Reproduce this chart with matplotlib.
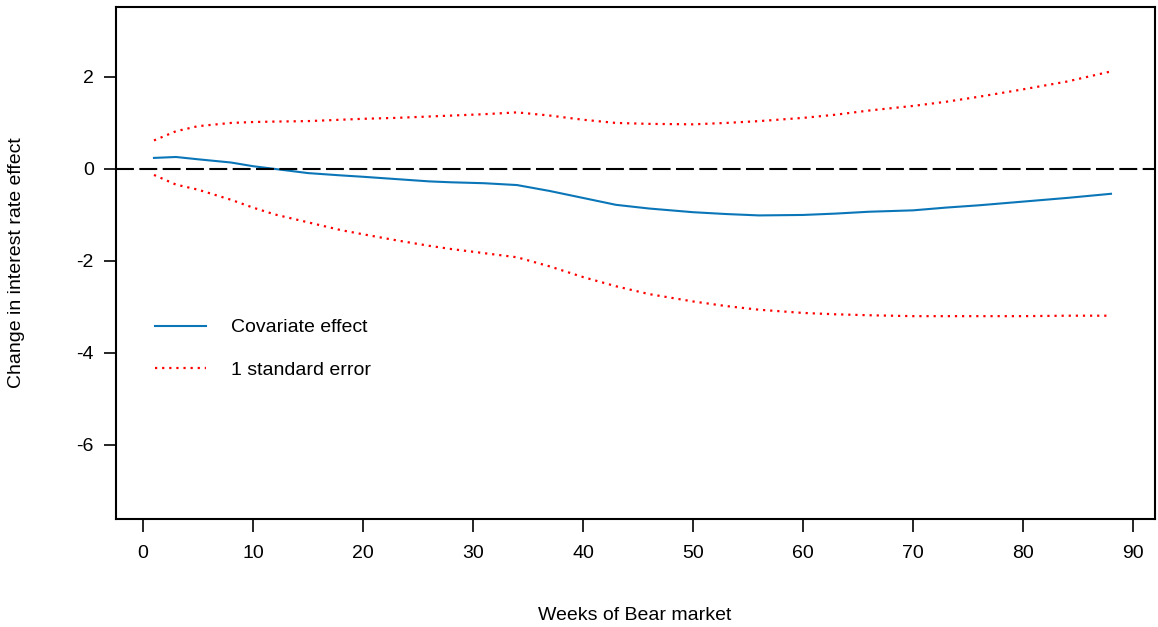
import matplotlib
matplotlib.use("Agg")
import matplotlib.pyplot as plt

plt.rcParams["font.family"] = ["Liberation Sans", "DejaVu Sans"]
plt.rcParams["axes.unicode_minus"] = False

# Недели медвежьего рынка и значения
weeks = [1, 3, 5, 8, 10, 12, 15, 18, 20, 23, 26, 28, 31, 34, 37, 40, 43, 46,
         50, 53, 56, 60, 63, 66, 70, 73, 76, 80, 84, 88]
effect = [0.24, 0.26, 0.21, 0.14, 0.06, 0.0, -0.09, -0.14, -0.17, -0.22,
          -0.27, -0.29, -0.31, -0.35, -0.48, -0.63, -0.78, -0.86, -0.94,
          -0.98, -1.01, -1.0, -0.97, -0.93, -0.90, -0.84, -0.79, -0.71,
          -0.63, -0.54]
upper = [0.62, 0.82, 0.93, 1.0, 1.02, 1.03, 1.04, 1.07, 1.09, 1.11, 1.14,
         1.16, 1.19, 1.23, 1.16, 1.07, 1.0, 0.98, 0.97, 1.0, 1.04, 1.11,
         1.18, 1.27, 1.37, 1.46, 1.57, 1.73, 1.90, 2.12]
lower = [-0.13, -0.34, -0.45, -0.67, -0.84, -0.99, -1.16, -1.33, -1.42,
         -1.55, -1.67, -1.74, -1.83, -1.92, -2.12, -2.35, -2.55, -2.72,
         -2.88, -2.98, -3.06, -3.13, -3.16, -3.18, -3.2, -3.2, -3.2, -3.2,
         -3.19, -3.19]

x_ticks = list(range(0, 91, 10))
y_ticks = [-6, -4, -2, 0, 2]

blue = "#0a76b8"
red = "#ff0000"
fs = 14

fig = plt.figure(figsize=(11.58, 6.27), dpi=100)
ax = fig.add_axes([0.1002, 0.1722, 0.8972, 0.8166])

ax.plot(weeks, effect, color=blue, lw=1.5, label="Covariate effect")
ax.plot(weeks, upper, color=red, lw=1.6, linestyle=(0, (1, 2.2)),
        label="1 standard error")
ax.plot(weeks, lower, color=red, lw=1.6, linestyle=(0, (1, 2.2)))

# горизонтальная линия нуля
ax.axhline(0, color="black", lw=1.5, linestyle=(0, (8.6, 2.6)))

ax.set_xlim(-2.45, 92.0)
ax.set_ylim(-7.61, 3.52)
ax.set_xticks(x_ticks)
ax.set_yticks(y_ticks)
ax.tick_params(direction="out", length=9, width=1.2, labelsize=fs)
ax.tick_params(axis="x", pad=10)
ax.tick_params(axis="y", pad=7)
for s in ax.spines.values():
    s.set_linewidth(1.5)

fig.text(0.548, 1 - 615 / 627, "Weeks of Bear market", fontsize=fs,
         ha="center", va="center")
fig.text(17 / 1158, 1 - 263 / 627, "Change in interest rate effect",
         fontsize=fs, rotation=90, ha="center", va="center")

ax.legend(loc="center left", bbox_to_anchor=(0.021, 0.332), frameon=False,
          fontsize=fs, handlelength=2.6, handletextpad=1.3, labelspacing=1.3,
          borderpad=0.4)

fig.savefig("out.png", dpi=100)
